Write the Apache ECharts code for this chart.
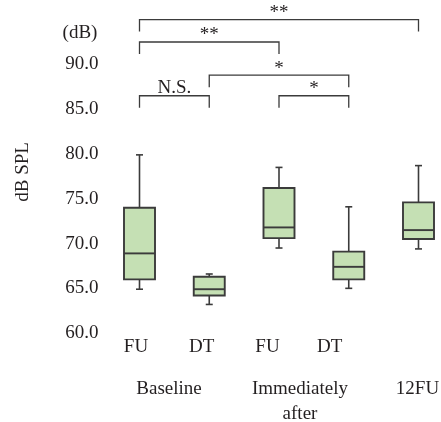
<!DOCTYPE html>
<html><head><meta charset="utf-8">
<script src="https://cdn.jsdelivr.net/npm/echarts@6/dist/echarts.min.js"></script>
<style>html,body{margin:0;padding:0;background:#fff;}#c{width:441px;height:422px;}</style>
</head><body><div id="c"></div>
<script>
const categories = ['Baseline FU', 'Baseline DT', 'Immediately after FU', 'Immediately after DT', '12FU'];
const tickLabels = ['FU', 'DT', 'FU', 'DT', ''];
const groupLabels = ['Baseline', 'Immediately\nafter', '12FU'];
const whiskerLow  = [64.9, 63.2, 69.5, 65.0, 69.4];
const q1          = [66.0, 64.2, 70.6, 66.0, 70.5];
const median      = [68.9, 64.9, 71.8, 67.4, 71.5];
const q3          = [74.0, 66.3, 76.2, 69.1, 74.6];
const whiskerHigh = [79.9, 66.6, 78.5, 74.1, 78.7];
const bracketFrom  = [0, 0, 1, 0, 2];
const bracketTo    = [4, 2, 3, 1, 3];
const bracketLevel = [95.0, 92.5, 88.8, 86.5, 86.5];
const bracketText  = ['**', '**', '*', 'N.S.', '*'];

const FONT = "'Liberation Serif', 'DejaVu Serif', serif";
const TXT = '#231f20';
const EDGE = '#3b3b3b';

const boxData = categories.map((c, i) => [i, whiskerLow[i], q1[i], median[i], q3[i], whiskerHigh[i]]);
const bracketData = bracketFrom.map((f, i) => [f, bracketTo[i], bracketLevel[i]]);

function renderBox(params, api) {
  const x = api.value(0);
  const pLow = api.coord([x, api.value(1)]);
  const pQ1 = api.coord([x, api.value(2)]);
  const pMed = api.coord([x, api.value(3)]);
  const pQ3 = api.coord([x, api.value(4)]);
  const pHigh = api.coord([x, api.value(5)]);
  const hw = 15.5, cw = 3.5, cx = pQ1[0];
  const st = { stroke: EDGE, lineWidth: 1.6 };
  return { type: 'group', children: [
    { type: 'line', shape: { x1: cx, y1: pQ3[1], x2: cx, y2: pHigh[1] }, style: st },
    { type: 'line', shape: { x1: cx - cw, y1: pHigh[1], x2: cx + cw, y2: pHigh[1] }, style: st },
    { type: 'line', shape: { x1: cx, y1: pQ1[1], x2: cx, y2: pLow[1] }, style: st },
    { type: 'line', shape: { x1: cx - cw, y1: pLow[1], x2: cx + cw, y2: pLow[1] }, style: st },
    { type: 'rect', shape: { x: cx - hw, y: pQ3[1], width: hw * 2, height: pQ1[1] - pQ3[1] },
      style: { fill: '#c5e0b4', stroke: EDGE, lineWidth: 1.9 } },
    { type: 'line', shape: { x1: cx - hw, y1: pMed[1], x2: cx + hw, y2: pMed[1] }, style: { stroke: EDGE, lineWidth: 1.9 } }
  ]};
}

function renderBracket(params, api) {
  const a = api.coord([api.value(0), api.value(2)]);
  const b = api.coord([api.value(1), api.value(2)]);
  const leg = 12;
  const label = bracketText[params.dataIndex];
  const gap = label === 'N.S.' ? -2 : -3;
  return { type: 'group', children: [
    { type: 'polyline', shape: { points: [[a[0], a[1] + leg], [a[0], a[1]], [b[0], b[1]], [b[0], b[1] + leg]] },
      style: { stroke: EDGE, lineWidth: 1.3, fill: null } },
    { type: 'text', x: (a[0] + b[0]) / 2, y: a[1] - gap,
      style: { text: label, fill: TXT, font: "19px " + FONT, align: 'center', textAlign: 'center',
               verticalAlign: 'bottom', textVerticalAlign: 'bottom' } }
  ]};
}

const rich = {};
[7, 15, 23, 38, 0].forEach((p, i) => { rich['p' + i] = { padding: [0, p, 0, 0] }; });

const chart = echarts.init(document.getElementById('c'), null, { renderer: 'canvas' });
chart.setOption({
  animation: false,
  backgroundColor: '#fff',
  textStyle: { fontFamily: FONT },
  grid: { left: 139.5, right: 22.5, top: 10.65, bottom: 44.1, containLabel: false, outerBoundsMode: 'none' },
  xAxis: {
    type: 'category', data: categories, boundaryGap: false, offset: -44.8,
    axisLine: { show: false }, axisTick: { show: false }, splitLine: { show: false },
    axisLabel: { interval: 0, margin: 4, fontSize: 19, fontFamily: FONT, color: TXT,
      formatter: (v, i) => '{p' + i + '|' + tickLabels[i] + '}', rich: rich }
  },
  yAxis: {
    type: 'value', min: 55, max: 96, interval: 5,
    name: 'dB SPL', nameLocation: 'middle', nameRotate: 90, nameGap: 107,
    nameTextStyle: { fontSize: 19, fontFamily: FONT, color: TXT, padding: [0, 0, 0, 44.8] },
    axisLine: { show: false }, axisTick: { show: false }, splitLine: { show: false },
    axisLabel: { margin: 41, fontSize: 19, fontFamily: FONT, color: TXT,
      formatter: v => (v > 90 || v < 60 ? '' : v.toFixed(1)) }
  },
  graphic: [
    { type: 'text', x: 80, y: 33, style: { text: '(dB)', font: '19px ' + FONT, fill: TXT,
      align: 'center', textAlign: 'center', verticalAlign: 'middle', textVerticalAlign: 'middle' } },
    { type: 'text', x: 169, y: 376.5, style: { text: groupLabels[0], font: '19px ' + FONT, fill: TXT, lineHeight: 25,
      align: 'center', textAlign: 'center', verticalAlign: 'top', textVerticalAlign: 'top' } },
    { type: 'text', x: 300, y: 376.5, style: { text: groupLabels[1], font: '19px ' + FONT, fill: TXT, lineHeight: 25,
      align: 'center', textAlign: 'center', verticalAlign: 'top', textVerticalAlign: 'top' } },
    { type: 'text', x: 417.5, y: 376.5, style: { text: groupLabels[2], font: '19px ' + FONT, fill: TXT, lineHeight: 25,
      align: 'center', textAlign: 'center', verticalAlign: 'top', textVerticalAlign: 'top' } }
  ],
  series: [
    { type: 'custom', name: 'box', data: boxData, renderItem: renderBox,
      encode: { x: 0, y: [1, 2, 3, 4, 5] }, clip: false, silent: true },
    { type: 'custom', name: 'brackets', data: bracketData, renderItem: renderBracket,
      encode: { x: [0, 1], y: 2 }, clip: false, silent: true }
  ]
});
</script></body></html>
